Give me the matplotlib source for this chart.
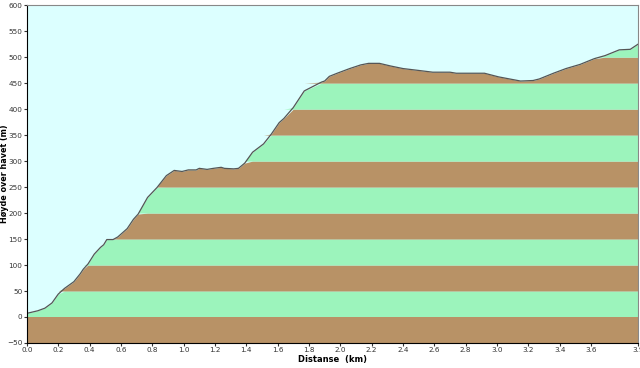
import numpy as np
import matplotlib
matplotlib.use('Agg')
import matplotlib.pyplot as plt

# Elevation profile (km, m)
dist_km = [0.00, 0.07, 0.115, 0.16, 0.20, 0.24, 0.30, 0.34, 0.36, 0.39, 0.43, 0.47,
           0.49, 0.51, 0.55, 0.58, 0.64, 0.68, 0.71, 0.77, 0.83, 0.89, 0.94, 0.99,
           1.03, 1.08, 1.10, 1.15, 1.19, 1.24, 1.26, 1.32, 1.35, 1.39, 1.44, 1.51,
           1.56, 1.61, 1.64, 1.70, 1.77, 1.88, 1.90, 1.93, 1.98, 2.06, 2.13, 2.18,
           2.25, 2.32, 2.40, 2.51, 2.59, 2.70, 2.74, 2.92, 3.01, 3.15, 3.23, 3.27,
           3.36, 3.44, 3.53, 3.62, 3.69, 3.78, 3.85, 3.90]
height_m = [7, 12, 17, 27, 44, 55, 68, 83, 92, 102, 121, 134,
            139, 149, 149, 154, 170, 188, 198, 230, 249, 272, 282, 280,
            283, 283, 286, 284, 286, 288, 286, 285, 286, 296, 317, 333,
            352, 374, 382, 403, 435, 452, 454, 463, 469, 478, 485, 488,
            488, 483, 478, 474, 471, 471, 469, 469, 462, 454, 455, 458,
            469, 478, 486, 497, 503, 514, 515, 525]

y_ticks = list(range(-50, 601, 50))
x_ticks = [round(0.2 * i, 1) for i in range(19)] + [3.9]

x = np.array(dist_km)
y = np.array(height_m)

sky = '#dcffff'
brown = '#b89266'
green = '#9cf4bc'

fig = plt.figure(figsize=(6.4, 3.68), dpi=100)
ax = fig.add_axes([0.042, 0.068, 0.955, 0.918])
ax.set_facecolor(sky)

# 50 m bands under the profile, alternating brown / green
for lo in range(-50, 600, 50):
    col = brown if (lo // 50) % 2 else green
    ax.fill_between(x, lo, np.clip(y, lo, lo + 50), color=col, lw=0)
ax.fill_between(x, -50, 0, color=brown, lw=0)
ax.plot(x, y, color='#555555', lw=0.9)

ax.set_xlim(0, 3.9)
ax.set_ylim(-50, 600)
ax.set_xticks(x_ticks)
ax.set_xticklabels([f'{v:.1f}' for v in x_ticks])
ax.set_yticks(y_ticks)
ax.tick_params(labelsize=5.2, length=2, pad=1.2, colors='#333333')
ax.set_xlabel('Distanse  (km)', fontsize=6, fontweight='bold', labelpad=1)
ax.set_ylabel('Høyde over havet (m)', fontsize=5.8, fontweight='bold')
ax.yaxis.set_label_coords(-0.029, 0.5)

for s in ['top', 'right']:
    ax.spines[s].set_color('#888888')
for s in ['left', 'bottom']:
    ax.spines[s].set_color('black')

fig.savefig('out.png', dpi=100)
